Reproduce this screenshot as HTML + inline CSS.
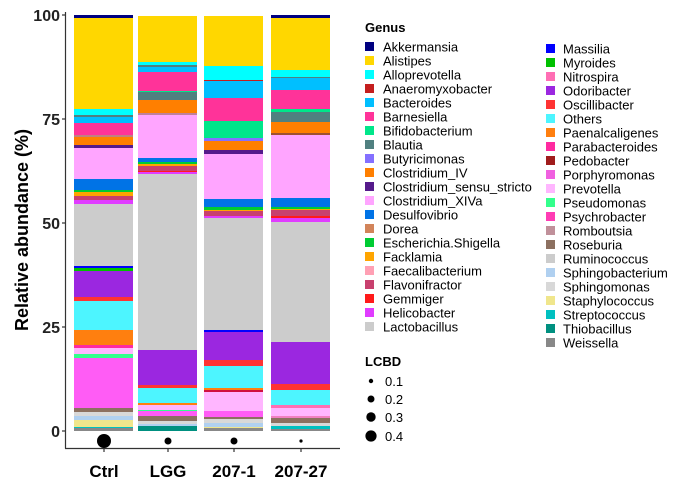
<!DOCTYPE html>
<html><head><meta charset="utf-8"><style>
html,body{margin:0;padding:0;background:#fff;}
svg{display:block;font-family:"Liberation Sans",Arial,sans-serif;}
</style></head><body>
<svg width="685" height="496" viewBox="0 0 685 496" xmlns="http://www.w3.org/2000/svg">
<g id="bars" shape-rendering="crispEdges">
<g transform="translate(74,0)">
<rect y="15" width="59" height="3" fill="#000080"/>
<rect y="18" width="59" height="91" fill="#FFD700"/>
<rect y="109" width="59" height="6" fill="#00FFFF"/>
<rect y="115" width="59" height="2" fill="#508080"/>
<rect y="117" width="59" height="6" fill="#00BFFF"/>
<rect y="123" width="59" height="12" fill="#FF3399"/>
<rect y="135" width="59" height="2" fill="#C08080"/>
<rect y="137" width="59" height="8" fill="#FF7F00"/>
<rect y="145" width="59" height="3" fill="#551A8B"/>
<rect y="148" width="59" height="31" fill="#FFA5FF"/>
<rect y="179" width="59" height="11" fill="#0073E6"/>
<rect y="190" width="59" height="2" fill="#00CC33"/>
<rect y="192" width="59" height="4" fill="#FFA500"/>
<rect y="196" width="59" height="4" fill="#C8406E"/>
<rect y="200" width="59" height="4" fill="#E03CFF"/>
<rect y="204" width="59" height="62" fill="#CCCCCC"/>
<rect y="266" width="59" height="2" fill="#0000FF"/>
<rect y="268" width="59" height="3" fill="#00C000"/>
<rect y="271" width="59" height="26" fill="#9B27E0"/>
<rect y="297" width="59" height="4" fill="#FF3333"/>
<rect y="301" width="59" height="29" fill="#4DF5FF"/>
<rect y="330" width="59" height="15" fill="#FF7F0F"/>
<rect y="345" width="59" height="3" fill="#FF2AA0"/>
<rect y="348" width="59" height="6" fill="#FFB6FF"/>
<rect y="354" width="59" height="4" fill="#33FF8C"/>
<rect y="358" width="59" height="50" fill="#FF5CF5"/>
<rect y="408" width="59" height="4" fill="#8C7060"/>
<rect y="412" width="59" height="4" fill="#D8D8D8"/>
<rect y="416" width="59" height="4" fill="#B0D0F0"/>
<rect y="420" width="59" height="7" fill="#F0E68C"/>
<rect y="427" width="59" height="1" fill="#00C0C0"/>
<rect y="428" width="59" height="3" fill="#888888"/>
</g>
<g transform="translate(138,0)">
<rect y="16" width="59" height="46" fill="#FFD700"/>
<rect y="62" width="59" height="3" fill="#00FFFF"/>
<rect y="65" width="59" height="2" fill="#508080"/>
<rect y="67" width="59" height="5" fill="#00BFFF"/>
<rect y="72" width="59" height="19" fill="#FF3399"/>
<rect y="91" width="59" height="1" fill="#00E68A"/>
<rect y="92" width="59" height="8" fill="#508080"/>
<rect y="100" width="59" height="13" fill="#FF7F00"/>
<rect y="113" width="59" height="2" fill="#C0809A"/>
<rect y="115" width="59" height="43" fill="#FFA5FF"/>
<rect y="158" width="59" height="4" fill="#0073E6"/>
<rect y="162" width="59" height="2" fill="#00CC33"/>
<rect y="164" width="59" height="2" fill="#FFA500"/>
<rect y="166" width="59" height="5" fill="#C8406E"/>
<rect y="171" width="59" height="1" fill="#FF1A1A"/>
<rect y="172" width="59" height="2" fill="#E03CFF"/>
<rect y="174" width="59" height="176" fill="#CCCCCC"/>
<rect y="350" width="59" height="35" fill="#9B27E0"/>
<rect y="385" width="59" height="3" fill="#FF3333"/>
<rect y="388" width="59" height="15" fill="#4DF5FF"/>
<rect y="403" width="59" height="2" fill="#FF7F0F"/>
<rect y="405" width="59" height="5" fill="#FFB6FF"/>
<rect y="410" width="59" height="1" fill="#33FF8C"/>
<rect y="411" width="59" height="5" fill="#FF5CF5"/>
<rect y="416" width="59" height="5" fill="#8C7060"/>
<rect y="421" width="59" height="3" fill="#D8D8D8"/>
<rect y="424" width="59" height="2" fill="#B0D0F0"/>
<rect y="426" width="59" height="5" fill="#009080"/>
</g>
<g transform="translate(204,0)">
<rect y="16" width="59" height="50" fill="#FFD700"/>
<rect y="66" width="59" height="14" fill="#00FFFF"/>
<rect y="80" width="59" height="1" fill="#C41E1E"/>
<rect y="81" width="59" height="17" fill="#00BFFF"/>
<rect y="98" width="59" height="23" fill="#FF3399"/>
<rect y="121" width="59" height="17" fill="#00E68A"/>
<rect y="138" width="59" height="3" fill="#8470FF"/>
<rect y="141" width="59" height="9" fill="#FF7F00"/>
<rect y="150" width="59" height="4" fill="#551A8B"/>
<rect y="154" width="59" height="45" fill="#FFA5FF"/>
<rect y="199" width="59" height="8" fill="#0073E6"/>
<rect y="207" width="59" height="3" fill="#00CC33"/>
<rect y="210" width="59" height="1" fill="#FFA500"/>
<rect y="211" width="59" height="5" fill="#C8406E"/>
<rect y="216" width="59" height="2" fill="#E03CFF"/>
<rect y="218" width="59" height="112" fill="#CCCCCC"/>
<rect y="330" width="59" height="2" fill="#0000FF"/>
<rect y="332" width="59" height="28" fill="#9B27E0"/>
<rect y="360" width="59" height="6" fill="#FF3333"/>
<rect y="366" width="59" height="22" fill="#4DF5FF"/>
<rect y="388" width="59" height="2" fill="#FF7F0F"/>
<rect y="390" width="59" height="2" fill="#D01040"/>
<rect y="392" width="59" height="19" fill="#FFB6FF"/>
<rect y="411" width="59" height="6" fill="#FF5CF5"/>
<rect y="417" width="59" height="2" fill="#8C7060"/>
<rect y="419" width="59" height="4" fill="#D8D8D8"/>
<rect y="423" width="59" height="4" fill="#B0D0F0"/>
<rect y="427" width="59" height="1" fill="#F0E68C"/>
<rect y="428" width="59" height="3" fill="#888888"/>
</g>
<g transform="translate(271,0)">
<rect y="15" width="59" height="3" fill="#000080"/>
<rect y="18" width="59" height="52" fill="#FFD700"/>
<rect y="70" width="59" height="7" fill="#00FFFF"/>
<rect y="77" width="59" height="1" fill="#508080"/>
<rect y="78" width="59" height="12" fill="#00BFFF"/>
<rect y="90" width="59" height="19" fill="#FF3399"/>
<rect y="109" width="59" height="3" fill="#00E68A"/>
<rect y="112" width="59" height="10" fill="#508080"/>
<rect y="122" width="59" height="11" fill="#FF7F00"/>
<rect y="133" width="59" height="2" fill="#A05030"/>
<rect y="135" width="59" height="63" fill="#FFA5FF"/>
<rect y="198" width="59" height="9" fill="#0073E6"/>
<rect y="207" width="59" height="2" fill="#00CC33"/>
<rect y="209" width="59" height="1" fill="#FFA500"/>
<rect y="210" width="59" height="6" fill="#C8406E"/>
<rect y="216" width="59" height="2" fill="#FF1A1A"/>
<rect y="218" width="59" height="4" fill="#E03CFF"/>
<rect y="222" width="59" height="120" fill="#CCCCCC"/>
<rect y="342" width="59" height="42" fill="#9B27E0"/>
<rect y="384" width="59" height="6" fill="#FF3333"/>
<rect y="390" width="59" height="15" fill="#4DF5FF"/>
<rect y="405" width="59" height="3" fill="#FF6EB4"/>
<rect y="408" width="59" height="8" fill="#FFB6FF"/>
<rect y="416" width="59" height="2" fill="#F080C0"/>
<rect y="418" width="59" height="5" fill="#8C7060"/>
<rect y="423" width="59" height="3" fill="#D8D8D8"/>
<rect y="426" width="59" height="3" fill="#00C0C0"/>
<rect y="429" width="59" height="2" fill="#888888"/>
</g>
</g>
<g stroke="#333" stroke-width="1.2" fill="none">
<line x1="65.5" y1="12" x2="65.5" y2="448.5"/>
<line x1="65" y1="448.5" x2="340" y2="448.5"/>
<line x1="62" y1="15" x2="65" y2="15"/>
<line x1="62" y1="119" x2="65" y2="119"/>
<line x1="62" y1="223" x2="65" y2="223"/>
<line x1="62" y1="327" x2="65" y2="327"/>
<line x1="62" y1="431" x2="65" y2="431"/>
<line x1="104" y1="448" x2="104" y2="452"/>
<line x1="168" y1="448" x2="168" y2="452"/>
<line x1="234" y1="448" x2="234" y2="452"/>
<line x1="301" y1="448" x2="301" y2="452"/>
</g>
<g font-size="16" font-weight="bold" fill="#222" text-anchor="end">
<text x="60" y="21">100</text>
<text x="60" y="125">75</text>
<text x="60" y="229">50</text>
<text x="60" y="333">25</text>
<text x="60" y="437">0</text>
</g>
<text transform="translate(28,230) rotate(-90)" text-anchor="middle" font-size="18" font-weight="bold" fill="#000">Relative abundance (%)</text>
<g font-size="17" font-weight="bold" fill="#000" text-anchor="middle">
<text x="104" y="477">Ctrl</text>
<text x="168" y="477">LGG</text>
<text x="234" y="477">207-1</text>
<text x="301" y="477">207-27</text>
</g>
<g fill="#000">
<circle cx="104" cy="441" r="7"/>
<circle cx="168" cy="441" r="3.5"/>
<circle cx="234" cy="441" r="3.5"/>
<circle cx="301" cy="441" r="1.6"/>
</g>
<text x="365" y="32" font-size="13" font-weight="bold">Genus</text>
<g font-size="13" font-weight="bold"><text x="365" y="366">LCBD</text></g>
<g fill="#000" font-size="13">
<circle cx="371" cy="381" r="2.2"/><text x="385" y="386">0.1</text>
<circle cx="371" cy="399" r="3.5"/><text x="385" y="404">0.2</text>
<circle cx="371" cy="417" r="4.7"/><text x="385" y="422">0.3</text>
<circle cx="371" cy="436" r="5.6"/><text x="385" y="441">0.4</text>
</g>
<g font-size="13" fill="#000">
<rect x="365" y="42" width="9" height="9" fill="#000080"/><text x="383" y="51.5">Akkermansia</text>
<rect x="365" y="56" width="9" height="9" fill="#FFD700"/><text x="383" y="65.5">Alistipes</text>
<rect x="365" y="70" width="9" height="9" fill="#00FFFF"/><text x="383" y="79.5">Alloprevotella</text>
<rect x="365" y="84" width="9" height="9" fill="#C41E1E"/><text x="383" y="93.5">Anaeromyxobacter</text>
<rect x="365" y="98" width="9" height="9" fill="#00BFFF"/><text x="383" y="107.5">Bacteroides</text>
<rect x="365" y="112" width="9" height="9" fill="#FF3399"/><text x="383" y="121.5">Barnesiella</text>
<rect x="365" y="126" width="9" height="9" fill="#00E68A"/><text x="383" y="135.5">Bifidobacterium</text>
<rect x="365" y="140" width="9" height="9" fill="#508080"/><text x="383" y="149.5">Blautia</text>
<rect x="365" y="154" width="9" height="9" fill="#8470FF"/><text x="383" y="163.5">Butyricimonas</text>
<rect x="365" y="168" width="9" height="9" fill="#FF7F00"/><text x="383" y="177.5">Clostridium_IV</text>
<rect x="365" y="182" width="9" height="9" fill="#551A8B"/><text x="383" y="191.5">Clostridium_sensu_stricto</text>
<rect x="365" y="196" width="9" height="9" fill="#FFA5FF"/><text x="383" y="205.5">Clostridium_XIVa</text>
<rect x="365" y="210" width="9" height="9" fill="#0073E6"/><text x="383" y="219.5">Desulfovibrio</text>
<rect x="365" y="224" width="9" height="9" fill="#D2845A"/><text x="383" y="233.5">Dorea</text>
<rect x="365" y="238" width="9" height="9" fill="#00CC33"/><text x="383" y="247.5">Escherichia.Shigella</text>
<rect x="365" y="252" width="9" height="9" fill="#FFA500"/><text x="383" y="261.5">Facklamia</text>
<rect x="365" y="266" width="9" height="9" fill="#FFA0B4"/><text x="383" y="275.5">Faecalibacterium</text>
<rect x="365" y="280" width="9" height="9" fill="#C8406E"/><text x="383" y="289.5">Flavonifractor</text>
<rect x="365" y="294" width="9" height="9" fill="#FF1A1A"/><text x="383" y="303.5">Gemmiger</text>
<rect x="365" y="308" width="9" height="9" fill="#E03CFF"/><text x="383" y="317.5">Helicobacter</text>
<rect x="365" y="322" width="9" height="9" fill="#CCCCCC"/><text x="383" y="331.5">Lactobacillus</text>
</g>
<g font-size="13" fill="#000">
<rect x="546" y="44" width="9" height="9" fill="#0000FF"/><text x="563" y="53.5">Massilia</text>
<rect x="546" y="58" width="9" height="9" fill="#00C000"/><text x="563" y="67.5">Myroides</text>
<rect x="546" y="72" width="9" height="9" fill="#FF6EB4"/><text x="563" y="81.5">Nitrospira</text>
<rect x="546" y="86" width="9" height="9" fill="#9B27E0"/><text x="563" y="95.5">Odoribacter</text>
<rect x="546" y="100" width="9" height="9" fill="#FF3333"/><text x="563" y="109.5">Oscillibacter</text>
<rect x="546" y="114" width="9" height="9" fill="#4DF5FF"/><text x="563" y="123.5">Others</text>
<rect x="546" y="128" width="9" height="9" fill="#FF7F0F"/><text x="563" y="137.5">Paenalcaligenes</text>
<rect x="546" y="142" width="9" height="9" fill="#FF2AA0"/><text x="563" y="151.5">Parabacteroides</text>
<rect x="546" y="156" width="9" height="9" fill="#A01C1C"/><text x="563" y="165.5">Pedobacter</text>
<rect x="546" y="170" width="9" height="9" fill="#F060E0"/><text x="563" y="179.5">Porphyromonas</text>
<rect x="546" y="184" width="9" height="9" fill="#FFB6FF"/><text x="563" y="193.5">Prevotella</text>
<rect x="546" y="198" width="9" height="9" fill="#33FF8C"/><text x="563" y="207.5">Pseudomonas</text>
<rect x="546" y="212" width="9" height="9" fill="#FF3CB4"/><text x="563" y="221.5">Psychrobacter</text>
<rect x="546" y="226" width="9" height="9" fill="#C0909A"/><text x="563" y="235.5">Romboutsia</text>
<rect x="546" y="240" width="9" height="9" fill="#8C7060"/><text x="563" y="249.5">Roseburia</text>
<rect x="546" y="254" width="9" height="9" fill="#CCCCCC"/><text x="563" y="263.5">Ruminococcus</text>
<rect x="546" y="268" width="9" height="9" fill="#B0D0F0"/><text x="563" y="277.5">Sphingobacterium</text>
<rect x="546" y="282" width="9" height="9" fill="#D8D8D8"/><text x="563" y="291.5">Sphingomonas</text>
<rect x="546" y="296" width="9" height="9" fill="#F0E68C"/><text x="563" y="305.5">Staphylococcus</text>
<rect x="546" y="310" width="9" height="9" fill="#00C0C0"/><text x="563" y="319.5">Streptococcus</text>
<rect x="546" y="324" width="9" height="9" fill="#009080"/><text x="563" y="333.5">Thiobacillus</text>
<rect x="546" y="338" width="9" height="9" fill="#888888"/><text x="563" y="347.5">Weissella</text>
</g>
</svg>
</body></html>
